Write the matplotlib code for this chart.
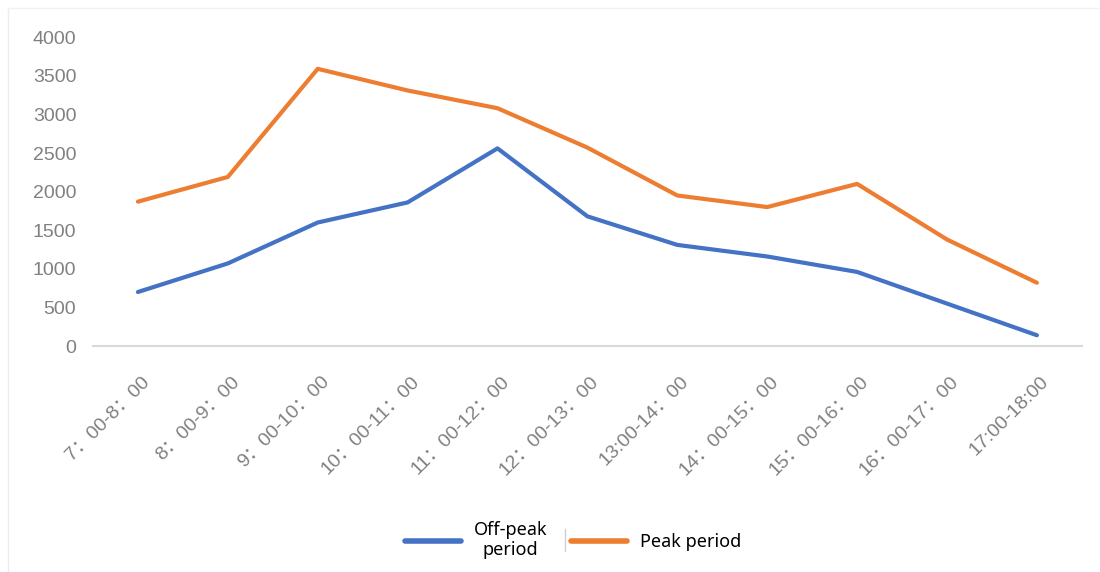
import matplotlib
matplotlib.use("Agg")
import matplotlib.pyplot as plt
import matplotlib.transforms as mtransforms
from matplotlib.lines import Line2D

# Hourly time slots
time_slots = [
    "7：00-8：00", "8：00-9：00", "9：00-10：00", "10：00-11：00",
    "11：00-12：00", "12：00-13：00", "13:00-14：00", "14：00-15：00",
    "15：00-16：00", "16：00-17：00", "17:00-18:00",
]
off_peak = [700, 1070, 1600, 1860, 2560, 1680, 1310, 1160, 960, 550, 140]
peak = [1870, 2190, 3590, 3310, 3080, 2570, 1950, 1800, 2100, 1380, 820]
y_ticks = [0, 500, 1000, 1500, 2000, 2500, 3000, 3500, 4000]

BLUE = "#4472C4"
ORANGE = "#ED7D31"
TICK_GREY = "#808080"

fig = plt.figure(figsize=(11, 5.72), dpi=100)
ax = fig.add_axes([0.0845, 0.395, 0.899, 0.54])

x = list(range(len(time_slots)))
ax.plot(x, off_peak, color=BLUE, lw=3.0, solid_capstyle="round",
        solid_joinstyle="round", label="Off-peak\nperiod")
ax.plot(x, peak, color=ORANGE, lw=3.0, solid_capstyle="round",
        solid_joinstyle="round", label="Peak period")

ax.set_xlim(-0.5, len(time_slots) - 0.5)
ax.set_ylim(0, 4000)
ax.set_yticks(y_ticks)
ax.set_yticklabels([str(v) for v in y_ticks], fontsize=14,
                   family="Liberation Sans", color=TICK_GREY)
ax.tick_params(axis="y", length=0, pad=12)

ax.set_xticks(x)
ax.set_xticklabels(time_slots, rotation=45, ha="right", va="center",
                   rotation_mode="anchor", fontsize=14, color=TICK_GREY,
                   family=["Liberation Sans", "Noto Sans CJK SC"])
ax.tick_params(axis="x", length=0, pad=24)
shift = mtransforms.ScaledTranslation(9 / 100, 0, fig.dpi_scale_trans)
for lbl in ax.get_xticklabels():
    lbl.set_transform(lbl.get_transform() + shift)

for side in ("top", "right", "left"):
    ax.spines[side].set_visible(False)
ax.spines["bottom"].set_color("#d9d9d9")
ax.spines["bottom"].set_linewidth(1.5)

# Faint outer frame of the chart area
fig.add_artist(Line2D([8 / 1100, 8 / 1100], [1 - 8 / 572, 0], color="#ececec", lw=1))
fig.add_artist(Line2D([8 / 1100, 1], [1 - 8 / 572, 1 - 8 / 572], color="#f2f2f2", lw=1))

leg = fig.legend(loc="center", bbox_to_anchor=(0.521, 1 - 540 / 572), ncol=2,
                 frameon=False, prop={"family": "Noto Sans", "size": 13},
                 handlelength=3.1, handletextpad=0.7, columnspacing=1.3)
for h in leg.legend_handles:
    h.set_linewidth(4)
for t in leg.get_texts():
    t.set_multialignment("center")

# Thin divider between the two legend entries
fig.add_artist(Line2D([565 / 1100, 565 / 1100], [1 - 529 / 572, 1 - 551 / 572],
                      color="#d0d0d0", lw=1))

fig.savefig("out.png", dpi=100, facecolor="white")
